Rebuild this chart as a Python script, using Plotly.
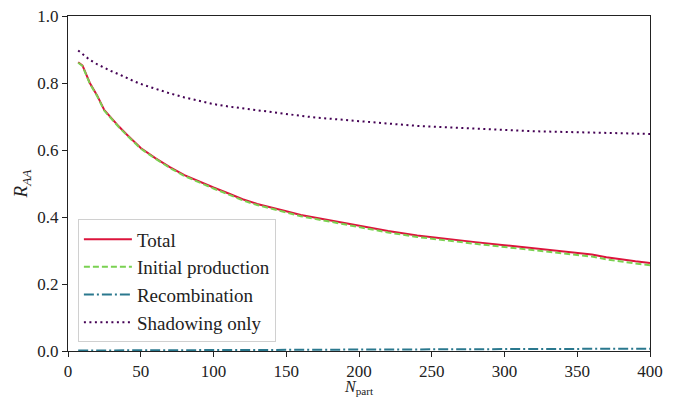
import plotly.graph_objects as go

# Centrality dependence of the nuclear modification factor
npart = [7, 10, 15, 20, 25, 30, 35, 40, 45, 50, 60, 70, 80, 90, 100, 110, 120,
         130, 140, 150, 160, 170, 180, 190, 200, 220, 240, 260, 280, 300, 320,
         340, 360, 370, 380, 390, 400]

raa_total = [0.862, 0.852, 0.800, 0.763, 0.719, 0.693, 0.670, 0.648, 0.627, 0.606,
             0.576, 0.549, 0.525, 0.506, 0.488, 0.471, 0.453, 0.439, 0.427, 0.417,
             0.406, 0.398, 0.390, 0.381, 0.375, 0.358, 0.345, 0.334, 0.325, 0.316,
             0.306, 0.297, 0.288, 0.280, 0.273, 0.268, 0.263]

raa_initial = [0.8605, 0.8505, 0.798, 0.761, 0.717, 0.691, 0.668, 0.646, 0.625, 0.604,
               0.574, 0.5465, 0.5225, 0.503, 0.485, 0.468, 0.4498, 0.4357, 0.4235, 0.4135,
               0.4024, 0.3943, 0.386, 0.3769, 0.371, 0.3538, 0.3405, 0.3293, 0.3199, 0.3105,
               0.3003, 0.291, 0.2818, 0.2737, 0.2665, 0.2613, 0.256]

raa_recomb = [0.0015, 0.0015, 0.002, 0.002, 0.002, 0.002, 0.002, 0.002, 0.002, 0.002,
              0.002, 0.0025, 0.0025, 0.003, 0.003, 0.003, 0.0032, 0.0033, 0.0035, 0.0035,
              0.0036, 0.0037, 0.004, 0.0041, 0.004, 0.0042, 0.0045, 0.0047, 0.0051, 0.0055,
              0.0057, 0.006, 0.0062, 0.0063, 0.0065, 0.0067, 0.007]

raa_shadow = [0.897, 0.886, 0.869, 0.856, 0.845, 0.835, 0.826, 0.815, 0.806, 0.797,
              0.782, 0.769, 0.757, 0.746, 0.737, 0.730, 0.724, 0.718, 0.712, 0.706,
              0.702, 0.697, 0.693, 0.689, 0.686, 0.679, 0.672, 0.668, 0.663, 0.660,
              0.656, 0.654, 0.652, 0.651, 0.650, 0.649, 0.648]

FONT = "Liberation Serif"
INK = "#222"

fig = go.Figure()
fig.add_trace(go.Scatter(x=npart, y=raa_total, mode="lines", name="Total",
                         line=dict(color="#dc143c", width=2)))
fig.add_trace(go.Scatter(x=npart, y=raa_initial, mode="lines", name="Initial production",
                         line=dict(color="#7ad151", width=2, dash="6px,3px")))
fig.add_trace(go.Scatter(x=npart, y=raa_recomb, mode="lines", name="Recombination",
                         line=dict(color="#2a788e", width=2, dash="10px,3px,2px,3px")))
fig.add_trace(go.Scatter(x=npart, y=raa_shadow, mode="lines", name="Shadowing only",
                         line=dict(color="#440154", width=2, dash="2px,3.5px")))

axis_common = dict(
    showgrid=False, zeroline=False, showline=True, linecolor=INK, linewidth=1,
    mirror=True, ticks="outside", ticklen=5, tickwidth=1, tickcolor=INK,
    tickfont=dict(family=FONT, size=17, color=INK), automargin=False,
)

fig.update_xaxes(range=[0, 400], tickvals=[0, 50, 100, 150, 200, 250, 300, 350, 400],
                 **axis_common)
fig.update_yaxes(range=[0, 1], tickvals=[0, 0.2, 0.4, 0.6, 0.8, 1.0], tickformat=".1f",
                 title=dict(text="<i>R</i><sub><i>AA</i></sub>", standoff=4,
                            font=dict(family=FONT, size=19, color=INK)),
                 **axis_common)

# x-axis label placed just below the tick labels
fig.add_annotation(text="<i>N</i><sub>part</sub>", xref="paper", yref="paper",
                   x=0.5, y=-0.139, xanchor="center", yanchor="bottom", showarrow=False,
                   borderpad=0, font=dict(family=FONT, size=16, color=INK))

fig.update_layout(
    width=678, height=398,
    margin=dict(l=68, r=28, t=16, b=47),
    plot_bgcolor="white", paper_bgcolor="white",
    font=dict(family=FONT, size=19, color=INK),
    legend=dict(x=0.017, y=0.026, xanchor="left", yanchor="bottom", itemwidth=48,
                bgcolor="rgba(255,255,255,0.8)", bordercolor="#d0d0d0", borderwidth=1,
                font=dict(family=FONT, size=19, color=INK)),
)

fig.write_html("out.html")
